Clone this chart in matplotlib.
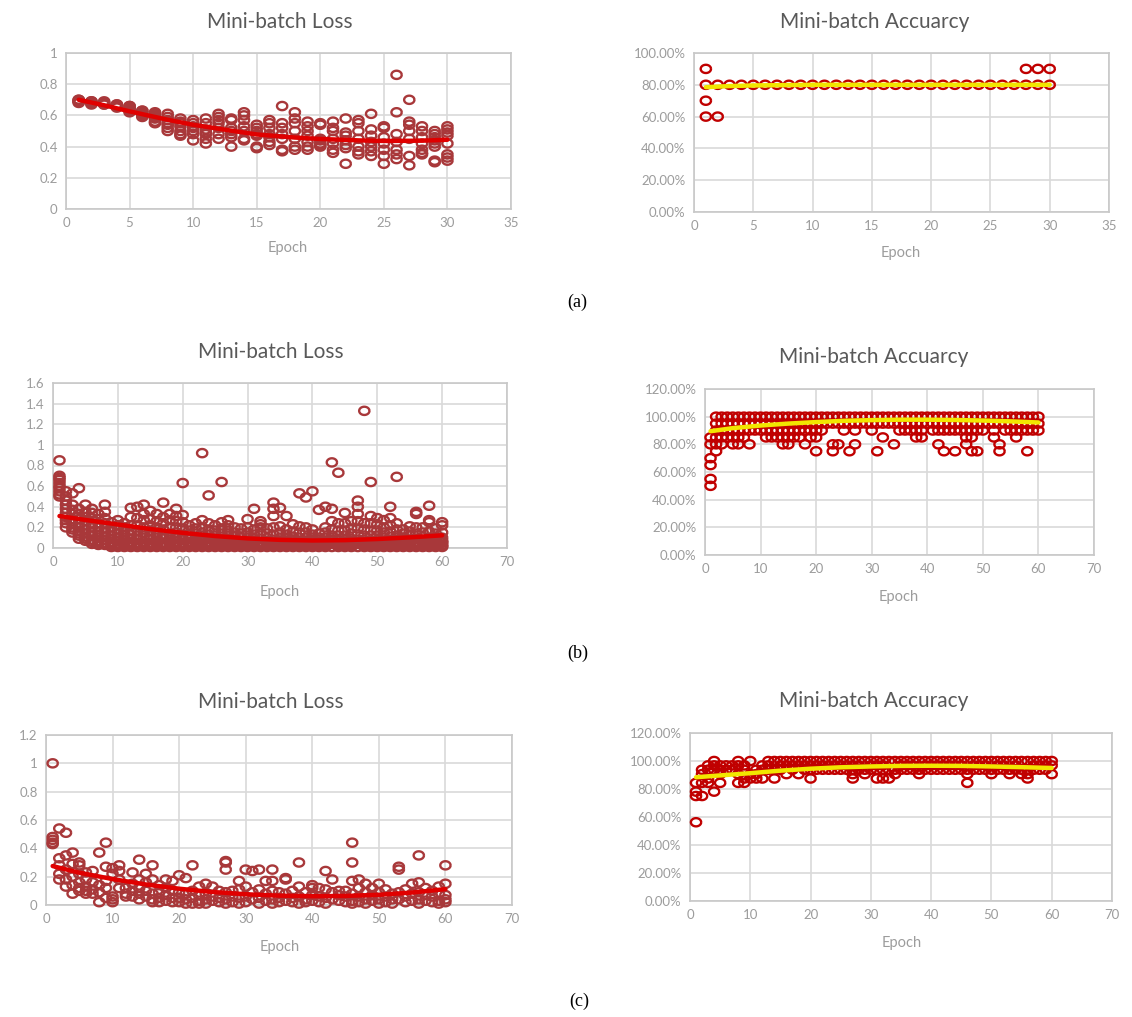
import numpy as np
import matplotlib
matplotlib.use("Agg")
import matplotlib.pyplot as plt
from matplotlib.ticker import FuncFormatter, MultipleLocator

# ---------------- DATA ----------------
# (a) 30 epochs, loss per mini-batch (list index = epoch-1)
loss_a = [
    [0.69, 0.70, 0.68, 0.69, 0.70, 0.69],
    [0.68, 0.69, 0.68, 0.67, 0.69],
    [0.68, 0.67, 0.69, 0.68, 0.67],
    [0.67, 0.66, 0.65, 0.67, 0.66],
    [0.66, 0.65, 0.63, 0.62, 0.64, 0.66],
    [0.63, 0.62, 0.60, 0.59, 0.61, 0.63],
    [0.62, 0.60, 0.58, 0.56, 0.55, 0.59, 0.61],
    [0.61, 0.59, 0.57, 0.55, 0.52, 0.50, 0.54],
    [0.58, 0.56, 0.53, 0.50, 0.48, 0.47, 0.55],
    [0.57, 0.55, 0.52, 0.50, 0.48, 0.44, 0.53],
    [0.58, 0.55, 0.51, 0.48, 0.45, 0.42, 0.49],
    [0.61, 0.59, 0.55, 0.52, 0.48, 0.45, 0.57],
    [0.58, 0.57, 0.52, 0.48, 0.46, 0.40, 0.50],
    [0.62, 0.60, 0.57, 0.53, 0.50, 0.45, 0.44],
    [0.54, 0.52, 0.50, 0.48, 0.47, 0.40, 0.39],
    [0.57, 0.55, 0.52, 0.48, 0.46, 0.43, 0.41],
    [0.66, 0.55, 0.52, 0.48, 0.45, 0.38, 0.37],
    [0.62, 0.58, 0.55, 0.50, 0.45, 0.40, 0.38],
    [0.56, 0.53, 0.50, 0.47, 0.43, 0.40, 0.38],
    [0.55, 0.54, 0.45, 0.44, 0.42, 0.40, 0.41],
    [0.56, 0.52, 0.50, 0.45, 0.42, 0.38, 0.36],
    [0.58, 0.49, 0.47, 0.44, 0.41, 0.39, 0.29],
    [0.57, 0.55, 0.50, 0.45, 0.40, 0.37, 0.35],
    [0.61, 0.51, 0.47, 0.43, 0.40, 0.37, 0.34],
    [0.53, 0.52, 0.46, 0.42, 0.38, 0.34, 0.29],
    [0.86, 0.62, 0.48, 0.43, 0.38, 0.35, 0.32],
    [0.70, 0.56, 0.54, 0.50, 0.45, 0.34, 0.28],
    [0.53, 0.50, 0.46, 0.42, 0.38, 0.36, 0.35],
    [0.50, 0.48, 0.46, 0.44, 0.42, 0.40, 0.31, 0.30],
    [0.53, 0.51, 0.49, 0.47, 0.42, 0.35, 0.33, 0.31],
]
acc_a = [[0.9, 0.8, 0.7, 0.6]] + [[0.8, 0.6]] + [[0.8]] * 25 + [[0.9, 0.8]] * 3

# (b) 60 epochs
loss_b = [
    [0.85, 0.70, 0.68, 0.66, 0.63, 0.60, 0.58, 0.55, 0.52, 0.50],
    [0.55, 0.50, 0.46, 0.42, 0.38, 0.34, 0.30, 0.27, 0.24, 0.20],
    [0.53, 0.42, 0.37, 0.33, 0.28, 0.24, 0.20, 0.18, 0.15],
    [0.58, 0.38, 0.33, 0.28, 0.24, 0.20, 0.16, 0.14, 0.12, 0.09],
    [0.42, 0.35, 0.30, 0.26, 0.22, 0.18, 0.14, 0.11, 0.09, 0.07],
    [0.38, 0.34, 0.29, 0.24, 0.20, 0.15, 0.12, 0.08, 0.06, 0.04],
    [0.33, 0.28, 0.24, 0.20, 0.16, 0.13, 0.10, 0.07, 0.05, 0.03],
    [0.42, 0.35, 0.29, 0.24, 0.19, 0.15, 0.11, 0.08, 0.05, 0.03],
    [0.25, 0.20, 0.16, 0.12, 0.09, 0.06, 0.04, 0.03, 0.02, 0.01],
    [0.27, 0.22, 0.18, 0.14, 0.10, 0.07, 0.04, 0.02, 0.01],
    [0.24, 0.20, 0.16, 0.13, 0.10, 0.07, 0.05, 0.03, 0.01],
    [0.39, 0.30, 0.22, 0.17, 0.13, 0.09, 0.06, 0.04, 0.03, 0.01],
    [0.40, 0.29, 0.22, 0.17, 0.12, 0.08, 0.05, 0.03, 0.02, 0.01],
    [0.42, 0.33, 0.27, 0.20, 0.15, 0.10, 0.06, 0.04, 0.03, 0.01],
    [0.36, 0.28, 0.22, 0.17, 0.12, 0.08, 0.05, 0.03, 0.02, 0.01],
    [0.33, 0.26, 0.20, 0.15, 0.10, 0.07, 0.05, 0.04, 0.02, 0.01],
    [0.44, 0.30, 0.24, 0.18, 0.13, 0.09, 0.05, 0.03, 0.02, 0.01],
    [0.33, 0.27, 0.20, 0.14, 0.10, 0.08, 0.06, 0.04, 0.03, 0.01],
    [0.38, 0.31, 0.26, 0.20, 0.15, 0.10, 0.06, 0.04, 0.03, 0.01],
    [0.63, 0.32, 0.25, 0.19, 0.13, 0.08, 0.05, 0.03, 0.02, 0.01],
    [0.22, 0.17, 0.13, 0.09, 0.06, 0.05, 0.04, 0.02, 0.01],
    [0.24, 0.19, 0.14, 0.10, 0.07, 0.05, 0.04, 0.02, 0.01],
    [0.92, 0.27, 0.20, 0.15, 0.10, 0.07, 0.06, 0.04, 0.03, 0.01],
    [0.51, 0.24, 0.18, 0.13, 0.09, 0.06, 0.04, 0.03, 0.01],
    [0.22, 0.17, 0.12, 0.08, 0.06, 0.05, 0.03, 0.02, 0.01],
    [0.64, 0.25, 0.19, 0.14, 0.09, 0.07, 0.06, 0.04, 0.03, 0.01],
    [0.27, 0.22, 0.17, 0.12, 0.08, 0.06, 0.05, 0.03, 0.02, 0.01],
    [0.20, 0.15, 0.11, 0.08, 0.07, 0.05, 0.04, 0.03, 0.01],
    [0.19, 0.14, 0.10, 0.07, 0.05, 0.04, 0.03, 0.02, 0.01],
    [0.28, 0.20, 0.15, 0.10, 0.07, 0.06, 0.04, 0.03, 0.02, 0.01],
    [0.38, 0.18, 0.13, 0.09, 0.07, 0.06, 0.04, 0.03, 0.01],
    [0.26, 0.23, 0.20, 0.14, 0.09, 0.06, 0.05, 0.03, 0.02, 0.01],
    [0.19, 0.14, 0.10, 0.07, 0.06, 0.04, 0.03, 0.02, 0.01],
    [0.44, 0.38, 0.31, 0.20, 0.13, 0.08, 0.06, 0.04, 0.02, 0.01],
    [0.39, 0.21, 0.15, 0.10, 0.07, 0.06, 0.04, 0.03, 0.01],
    [0.31, 0.18, 0.13, 0.09, 0.07, 0.05, 0.04, 0.03, 0.01],
    [0.23, 0.16, 0.11, 0.08, 0.07, 0.05, 0.04, 0.02, 0.01],
    [0.53, 0.21, 0.15, 0.10, 0.07, 0.06, 0.04, 0.03, 0.01],
    [0.49, 0.20, 0.15, 0.10, 0.07, 0.06, 0.04, 0.03, 0.01],
    [0.55, 0.18, 0.13, 0.08, 0.07, 0.05, 0.04, 0.02, 0.01],
    [0.37, 0.14, 0.10, 0.08, 0.06, 0.05, 0.04, 0.02, 0.01],
    [0.40, 0.20, 0.15, 0.10, 0.07, 0.06, 0.04, 0.03, 0.01],
    [0.83, 0.38, 0.26, 0.18, 0.12, 0.08, 0.07, 0.05, 0.04, 0.01],
    [0.73, 0.24, 0.17, 0.12, 0.08, 0.07, 0.05, 0.04, 0.02, 0.01],
    [0.34, 0.24, 0.17, 0.12, 0.08, 0.06, 0.05, 0.04, 0.02, 0.01],
    [0.26, 0.19, 0.14, 0.09, 0.07, 0.06, 0.05, 0.03, 0.01],
    [0.46, 0.40, 0.33, 0.26, 0.19, 0.13, 0.08, 0.06, 0.04, 0.01],
    [1.33, 0.24, 0.18, 0.12, 0.08, 0.06, 0.05, 0.04, 0.02, 0.01],
    [0.64, 0.31, 0.24, 0.17, 0.12, 0.07, 0.06, 0.04, 0.03, 0.01],
    [0.29, 0.23, 0.17, 0.12, 0.08, 0.06, 0.04, 0.03, 0.02, 0.01],
    [0.27, 0.20, 0.15, 0.10, 0.07, 0.06, 0.04, 0.03, 0.01],
    [0.40, 0.29, 0.22, 0.16, 0.11, 0.07, 0.06, 0.04, 0.03, 0.01],
    [0.69, 0.24, 0.18, 0.12, 0.08, 0.06, 0.04, 0.03, 0.02, 0.01],
    [0.18, 0.14, 0.10, 0.08, 0.06, 0.05, 0.03, 0.02, 0.01],
    [0.21, 0.16, 0.12, 0.08, 0.06, 0.05, 0.04, 0.02, 0.01],
    [0.35, 0.33, 0.20, 0.14, 0.09, 0.06, 0.05, 0.03, 0.02, 0.01],
    [0.20, 0.15, 0.11, 0.08, 0.07, 0.05, 0.04, 0.02, 0.01],
    [0.41, 0.27, 0.25, 0.16, 0.10, 0.07, 0.06, 0.04, 0.03, 0.01],
    [0.19, 0.14, 0.10, 0.08, 0.07, 0.05, 0.04, 0.02, 0.01],
    [0.25, 0.22, 0.15, 0.10, 0.07, 0.06, 0.05, 0.03, 0.02, 0.01],
]
acc_b = [
    [0.50, 0.55, 0.65, 0.70, 0.80, 0.85],
    [1.0, 0.95, 0.90, 0.85, 0.80, 0.75],
    [1.0, 0.95, 0.90, 0.85, 0.80],
    [1.0, 0.95, 0.90, 0.85],
    [1.0, 0.95, 0.90, 0.85, 0.80],
    [1.0, 0.95, 0.90, 0.85, 0.80],
    [1.0, 0.95, 0.90, 0.85],
    [1.0, 0.95, 0.90, 0.80],
    [1.0, 0.95, 0.90],
    [1.0, 0.95, 0.90],
    [1.0, 0.95, 0.90, 0.85],
    [1.0, 0.95, 0.90, 0.85],
    [1.0, 0.95, 0.90, 0.85],
    [1.0, 0.95, 0.90, 0.85, 0.80],
    [1.0, 0.95, 0.90, 0.85, 0.80],
    [1.0, 0.95, 0.90, 0.85],
    [1.0, 0.95, 0.90, 0.85],
    [1.0, 0.95, 0.90, 0.80],
    [1.0, 0.95, 0.90, 0.85],
    [1.0, 0.95, 0.90, 0.85, 0.75],
    [1.0, 0.95, 0.90],
    [1.0, 0.95],
    [1.0, 0.95, 0.80, 0.75],
    [1.0, 0.95, 0.80],
    [1.0, 0.95, 0.90],
    [1.0, 0.95, 0.75],
    [1.0, 0.95, 0.90, 0.80],
    [1.0, 0.95],
    [1.0, 0.95],
    [1.0, 0.95, 0.90],
    [1.0, 0.95, 0.75],
    [1.0, 0.95, 0.85],
    [1.0, 0.95],
    [1.0, 0.95, 0.80],
    [1.0, 0.95, 0.90],
    [1.0, 0.95, 0.90],
    [1.0, 0.95, 0.90],
    [1.0, 0.95, 0.90, 0.85],
    [1.0, 0.95, 0.90, 0.85],
    [1.0, 0.95],
    [1.0, 0.95, 0.90],
    [1.0, 0.95, 0.90, 0.80],
    [1.0, 0.95, 0.90, 0.75],
    [1.0, 0.95, 0.90],
    [1.0, 0.95, 0.90, 0.75],
    [1.0, 0.95, 0.90],
    [1.0, 0.95, 0.90, 0.85, 0.80],
    [1.0, 0.95, 0.90, 0.85, 0.75],
    [1.0, 0.95, 0.90, 0.75],
    [1.0, 0.95, 0.90],
    [1.0, 0.95],
    [1.0, 0.95, 0.90, 0.85],
    [1.0, 0.95, 0.80, 0.75],
    [1.0, 0.95, 0.90],
    [1.0, 0.95, 0.90],
    [1.0, 0.95, 0.90, 0.85],
    [1.0, 0.95, 0.90],
    [1.0, 0.95, 0.90, 0.75],
    [1.0, 0.95, 0.90],
    [1.0, 0.95, 0.90],
]

# (c) 60 epochs
loss_c = [
    [1.00, 0.48, 0.46, 0.44, 0.43],
    [0.54, 0.33, 0.28, 0.22, 0.18],
    [0.51, 0.35, 0.25, 0.18, 0.13],
    [0.37, 0.29, 0.20, 0.14, 0.08],
    [0.30, 0.28, 0.22, 0.16, 0.12, 0.10],
    [0.23, 0.18, 0.13, 0.10, 0.08],
    [0.24, 0.16, 0.11, 0.08],
    [0.37, 0.14, 0.09, 0.02],
    [0.44, 0.27, 0.17, 0.12, 0.05],
    [0.26, 0.22, 0.06, 0.04, 0.02],
    [0.28, 0.24, 0.18, 0.12],
    [0.12, 0.08, 0.06],
    [0.23, 0.15, 0.10, 0.06],
    [0.32, 0.18, 0.12, 0.08, 0.04],
    [0.22, 0.16, 0.10, 0.06],
    [0.28, 0.18, 0.08, 0.04, 0.02],
    [0.14, 0.09, 0.05, 0.02],
    [0.18, 0.12, 0.07, 0.03],
    [0.17, 0.10, 0.05, 0.02],
    [0.21, 0.09, 0.05, 0.02],
    [0.19, 0.08, 0.04, 0.01],
    [0.28, 0.10, 0.05, 0.01],
    [0.13, 0.07, 0.03, 0.01],
    [0.15, 0.08, 0.04, 0.01],
    [0.13, 0.06, 0.03],
    [0.10, 0.05, 0.02],
    [0.31, 0.30, 0.25, 0.09, 0.04, 0.01],
    [0.10, 0.06, 0.02],
    [0.17, 0.11, 0.05, 0.01],
    [0.25, 0.13, 0.06, 0.02],
    [0.24, 0.09, 0.04],
    [0.25, 0.11, 0.05, 0.01],
    [0.17, 0.08, 0.03],
    [0.25, 0.17, 0.10, 0.04, 0.01],
    [0.09, 0.05, 0.02],
    [0.19, 0.18, 0.08, 0.03],
    [0.10, 0.05, 0.02],
    [0.30, 0.13, 0.06, 0.01],
    [0.09, 0.04, 0.02],
    [0.14, 0.12, 0.07, 0.03],
    [0.12, 0.06, 0.02],
    [0.24, 0.11, 0.05, 0.01],
    [0.18, 0.09, 0.04],
    [0.10, 0.07, 0.03],
    [0.10, 0.06, 0.02],
    [0.44, 0.30, 0.17, 0.08, 0.03, 0.01],
    [0.18, 0.12, 0.06, 0.02],
    [0.15, 0.09, 0.04, 0.01],
    [0.12, 0.07, 0.03],
    [0.15, 0.09, 0.04, 0.01],
    [0.11, 0.06, 0.02],
    [0.08, 0.04, 0.01],
    [0.27, 0.25, 0.09, 0.04],
    [0.11, 0.06, 0.02],
    [0.15, 0.08, 0.03],
    [0.35, 0.16, 0.09, 0.04, 0.01],
    [0.12, 0.07, 0.03],
    [0.10, 0.06, 0.02],
    [0.13, 0.08, 0.03, 0.01],
    [0.28, 0.15, 0.07, 0.04, 0.02],
]
acc_c = [
    [0.5625, 0.75, 0.78125, 0.84375],
    [0.75, 0.84375, 0.90625, 0.9375],
    [0.84375, 0.875, 0.9375, 0.96875],
    [0.78125, 0.9375, 0.96875, 1.0],
    [0.84375, 0.90625, 0.9375, 0.96875],
    [0.9375, 0.96875],
    [0.9375, 0.96875],
    [0.84375, 0.90625, 0.96875, 1.0],
    [0.84375, 0.875, 0.9375, 0.96875],
    [0.875, 0.90625, 1.0],
    [0.875, 0.90625, 0.9375],
    [0.875, 0.9375, 0.96875],
    [0.9375, 0.96875, 1.0],
    [0.875, 0.9375, 1.0],
    [0.9375, 0.96875, 1.0],
    [0.90625, 0.96875, 1.0],
    [0.9375, 0.96875, 1.0],
    [0.90625, 0.96875, 1.0],
    [0.9375, 0.96875, 1.0],
    [0.875, 0.9375, 0.96875, 1.0],
    [0.9375, 0.96875, 1.0],
    [0.9375, 0.96875, 1.0],
    [0.9375, 0.96875, 1.0],
    [0.9375, 0.96875, 1.0],
    [0.9375, 0.96875, 1.0],
    [0.9375, 0.96875, 1.0],
    [0.875, 0.90625, 0.9375, 0.96875, 1.0],
    [0.9375, 0.96875, 1.0],
    [0.90625, 0.9375, 1.0],
    [0.9375, 0.96875, 1.0],
    [0.875, 0.9375, 0.96875, 1.0],
    [0.875, 0.9375, 0.96875, 1.0],
    [0.875, 0.9375, 1.0],
    [0.90625, 0.9375, 1.0],
    [0.9375, 0.96875, 1.0],
    [0.9375, 0.96875, 1.0],
    [0.9375, 0.96875, 1.0],
    [0.90625, 0.9375, 1.0],
    [0.9375, 0.96875, 1.0],
    [0.9375, 0.96875, 1.0],
    [0.9375, 0.96875, 1.0],
    [0.9375, 0.96875, 1.0],
    [0.9375, 0.96875, 1.0],
    [0.9375, 0.96875, 1.0],
    [0.9375, 0.96875, 1.0],
    [0.84375, 0.90625, 0.9375, 1.0],
    [0.9375, 0.96875, 1.0],
    [0.9375, 0.96875, 1.0],
    [0.9375, 0.96875, 1.0],
    [0.90625, 0.9375, 1.0],
    [0.9375, 0.96875, 1.0],
    [0.9375, 0.96875, 1.0],
    [0.90625, 0.9375, 1.0],
    [0.9375, 0.96875, 1.0],
    [0.90625, 0.9375, 1.0],
    [0.875, 0.90625, 0.9375, 1.0],
    [0.9375, 0.96875, 1.0],
    [0.9375, 0.96875, 1.0],
    [0.9375, 0.96875, 1.0],
    [0.90625, 0.96875, 1.0],
]

# Trend lines (epoch, value)
trend_a_loss_x = [1, 3, 5, 8, 10, 13, 15, 18, 20, 23, 25, 28, 30]
trend_a_loss_y = [0.70, 0.665, 0.626, 0.572, 0.54, 0.502, 0.478, 0.458, 0.449, 0.440, 0.436, 0.438, 0.444]
trend_a_acc_x = [1, 3, 5, 10, 20, 30]
trend_a_acc_y = [0.785, 0.792, 0.796, 0.80, 0.80, 0.80]
trend_b_loss_x = [1, 5, 10, 15, 20, 25, 30, 35, 40, 45, 50, 55, 60]
trend_b_loss_y = [0.31, 0.272, 0.228, 0.184, 0.147, 0.116, 0.093, 0.079, 0.073, 0.076, 0.087, 0.103, 0.123]
trend_b_acc_x = [1, 5, 10, 15, 20, 25, 30, 35, 40, 45, 50, 55, 60]
trend_b_acc_y = [0.895, 0.917, 0.936, 0.950, 0.961, 0.970, 0.975, 0.978, 0.978, 0.976, 0.972, 0.966, 0.958]
trend_c_loss_x = [1, 5, 10, 15, 20, 25, 30, 35, 40, 45, 50, 55, 60]
trend_c_loss_y = [0.275, 0.228, 0.183, 0.145, 0.115, 0.092, 0.076, 0.066, 0.062, 0.064, 0.072, 0.088, 0.112]
trend_c_acc_x = [1, 5, 10, 15, 20, 25, 30, 35, 40, 45, 50, 55, 60]
trend_c_acc_y = [0.884, 0.897, 0.913, 0.931, 0.945, 0.955, 0.961, 0.965, 0.966, 0.965, 0.961, 0.956, 0.950]

titles = ["Mini-batch Loss", "Mini-batch Accuarcy",
          "Mini-batch Loss", "Mini-batch Accuarcy",
          "Mini-batch Loss", "Mini-batch Accuracy"]
captions = ["(a)", "(b)", "(c)"]

# ---------------- FIGURE ----------------
W, H = 1132, 1017
fig = plt.figure(figsize=(W / 100, H / 100), dpi=100)
fig.patch.set_facecolor("white")

FONT = ["Lato", "DejaVu Sans"]
TICK_C = "#9C9C9C"
TITLE_C = "#595959"
GRID_C = "#D9D9D9"
LOSS_MC = "#A8383A"
ACC_MC = "#C00000"

# slightly wide ellipse marker outline (marker shape only)
_t = np.linspace(0, 2 * np.pi, 41)
ELLIPSE = list(zip(1.0 * np.cos(_t), 0.8 * np.sin(_t)))


def px_axes(x0, x1, ytop, ybot):
    return fig.add_axes([x0 / W, 1 - ybot / H, (x1 - x0) / W, (ybot - ytop) / H])


def style(ax, xmax, xstep, ymax, ystep, pct):
    ax.set_xlim(0, xmax)
    ax.set_ylim(0, ymax)
    ax.xaxis.set_major_locator(MultipleLocator(xstep))
    ax.yaxis.set_major_locator(MultipleLocator(ystep))
    ax.grid(True, color=GRID_C, lw=1.2, zorder=0)
    ax.set_axisbelow(True)
    for s in ax.spines.values():
        s.set_color("#C8C8C8")
        s.set_linewidth(1.2)
    ax.tick_params(length=0, labelsize=9.5, colors=TICK_C, pad=6)
    if pct:
        ax.yaxis.set_major_formatter(FuncFormatter(lambda v, p: f"{v * 100:.2f}%"))
    else:
        ax.yaxis.set_major_formatter(FuncFormatter(lambda v, p: f"{round(v, 2):g}"))
    ax.xaxis.set_major_formatter(FuncFormatter(lambda v, p: f"{v:g}"))
    for lab in ax.get_xticklabels() + ax.get_yticklabels():
        lab.set_family(FONT)


def scatter_epochs(ax, data, color):
    xs, ys = [], []
    for i, vals in enumerate(data):
        xs += [i + 1] * len(vals)
        ys += vals
    ax.scatter(xs, ys, marker=ELLIPSE, s=55, facecolors="none", edgecolors=color,
               linewidths=1.7, zorder=3, clip_on=False)


panels = [
    (loss_a, trend_a_loss_x, trend_a_loss_y, "#E00000", LOSS_MC, (66, 511, 53, 209), 35, 5, 1.0, 0.2, False),
    (acc_a, trend_a_acc_x, trend_a_acc_y, "#F2E600", ACC_MC, (694, 1109, 53, 212), 35, 5, 1.0, 0.2, True),
    (loss_b, trend_b_loss_x, trend_b_loss_y, "#E00000", LOSS_MC, (53, 507, 383, 548), 70, 10, 1.6, 0.2, False),
    (acc_b, trend_b_acc_x, trend_b_acc_y, "#F2E600", ACC_MC, (705, 1094, 389, 555), 70, 10, 1.2, 0.2, True),
    (loss_c, trend_c_loss_x, trend_c_loss_y, "#E00000", LOSS_MC, (46, 512, 735, 905), 70, 10, 1.2, 0.2, False),
    (acc_c, trend_c_acc_x, trend_c_acc_y, "#F2E600", ACC_MC, (690, 1112, 733, 901), 70, 10, 1.2, 0.2, True),
]
title_pos = [(280, 22), (875, 22), (271, 352), (874, 357), (271, 702), (874, 701)]
xlabel_pos = [(288, 248), (901, 253), (280, 592), (899, 597), (280, 947), (902, 943)]
caption_pos = [(577, 302), (578, 653), (579, 1001)]

for k, (data, tx, ty, tc, mc, box, xmax, xstep, ymax, ystep, pct) in enumerate(panels):
    ax = px_axes(*box)
    style(ax, xmax, xstep, ymax, ystep, pct)
    scatter_epochs(ax, data, mc)
    ax.plot(tx, ty, color=tc, lw=3.2, solid_capstyle="round", solid_joinstyle="round", zorder=4)
    fig.text(title_pos[k][0] / W, 1 - title_pos[k][1] / H, titles[k], ha="center", va="center",
             fontsize=15, color=TITLE_C, family=FONT)
    fig.text(xlabel_pos[k][0] / W, 1 - xlabel_pos[k][1] / H, "Epoch", ha="center", va="center",
             fontsize=10.5, color=TICK_C, family=FONT)

for k, c in enumerate(captions):
    fig.text(caption_pos[k][0] / W, 1 - caption_pos[k][1] / H, c, ha="center", va="center",
             fontsize=13, color="black", family=["Liberation Serif", "DejaVu Serif"])

fig.savefig("out.png", dpi=100, facecolor="white")
